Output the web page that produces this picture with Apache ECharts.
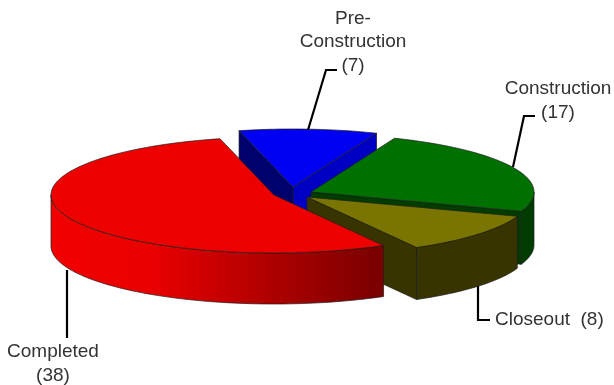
<!DOCTYPE html>
<html><head><meta charset="utf-8">
<style>html,body{margin:0;padding:0;background:#fff}#c{width:614px;height:385px;filter:blur(0.45px)}</style>
<script src="https://cdn.jsdelivr.net/npm/echarts@6/dist/echarts.min.js"></script>
</head><body><div id="c"></div>
<script>
// data
const categories = ['Pre-Construction', 'Construction', 'Closeout', 'Completed'];
const labelNames = ['Pre-\nConstruction', 'Construction', 'Closeout', 'Completed'];
const values = [7, 17, 8, 38];

// layout and style
const RX = 223, RY = 58, START_ANGLE = 256;
const centers = [[293, 187], [311, 192], [307, 197], [274, 195]];
const depths = [52, 53, 52, 51];
const palette = [
  {top:'#0000f2', startCut:'#00006c', endCut:'#0000c4', wall:'#00006c'},
  {top:'#007000', startCut:'#003c00', endCut:'#003c00', wall:'#003c00'},
  {top:'#7a7400', startCut:'#383400', endCut:'#383400', wall:'#383400'},
  {top:'#ee0000', startCut:'#7a0000', endCut:'#7a0000',
   wall:{type:'linear',x:0,y:0,x2:1,y2:0,colorStops:[
     {offset:0,color:'#f20000'},{offset:0.3,color:'#ea0000'},{offset:0.65,color:'#b00000'},{offset:1,color:'#780000'}]}}
];
const labelLayout = [
  {x:353, y:42, align:'center', leader:[[337,70],[326,70],[308,130]]},
  {x:558, y:101, align:'center', leader:[[535,116],[524,116],[513,167]]},
  {x:495, y:320, align:'left', leader:[[478,286],[478,320],[490,320]]},
  {x:53, y:364, align:'center', leader:[[67,270],[67,338]]}
];
const total = values.reduce((a, b) => a + b, 0);
const rad = d => d * Math.PI / 180;
const stroke = {stroke:'#1c1c1c', lineWidth:0.7, lineJoin:'round'};

function arcPts(c, a0, a1, dy) {
  const pts = [], n = Math.max(2, Math.ceil(Math.abs(a1 - a0) / 1.5));
  for (let i = 0; i <= n; i++) {
    const t = rad(a0 + (a1 - a0) * i / n);
    pts.push([c[0] + RX * Math.cos(t), c[1] + RY * Math.sin(t) + dy]);
  }
  return pts;
}
function poly(points, fill) {
  return {type:'polygon', shape:{points}, style:Object.assign({fill}, stroke), silent:true};
}
function renderSlice(params, api) {
  const i = params.dataIndex, v = api.value(0);
  let before = 0;
  for (let k = 0; k < i; k++) before += values[k];
  const a0 = START_ANGLE + before / total * 360, a1 = a0 + v / total * 360;
  const c = centers[i], d = depths[i], col = palette[i], kids = [];

  const cut = (a, fill) => {
    const e = arcPts(c, a, a, 0)[0];
    kids.push(poly([c, e, [e[0], e[1] + d], [c[0], c[1] + d]], fill));
  };
  if (Math.cos(rad(a0)) < 0) cut(a0, col.startCut);
  if (Math.cos(rad(a1)) > 0) cut(a1, col.endCut);

  // outer wall: only the front half of the ellipse faces the viewer
  for (const shift of [0, 360]) {
    const w0 = Math.max(a0, shift), w1 = Math.min(a1, shift + 180);
    if (w1 > w0) {
      const top = arcPts(c, w0, w1, 0), bot = arcPts(c, w1, w0, d);
      kids.push(poly(top.concat(bot), col.wall));
    }
  }
  kids.push(poly([c].concat(arcPts(c, a0, a1, 0)), col.top));

  const lab = labelLayout[i];
  kids.push({type:'polyline', shape:{points:lab.leader}, silent:true,
    style:{stroke:'#000', lineWidth:2.2, fill:null}, z2:5});
  const sep = lab.align === 'left' ? '  ' : '\n';
  kids.push({type:'text', silent:true, z2:6, style:{
    text: labelNames[i] + sep + '(' + v + ')',
    x: lab.x, y: lab.y, align: lab.align, verticalAlign:'middle',
    font:'19px "Liberation Sans", Arial, sans-serif', lineHeight:23.5, fill:'#333'}});
  return {type:'group', children:kids};
}

const chart = echarts.init(document.getElementById('c'), null, {renderer:'canvas'});
chart.setOption({
  animation:false,
  backgroundColor:'#fff',
  series:[{type:'custom', coordinateSystem:'none', renderItem:renderSlice,
    data: values.map((v, i) => ({name:categories[i], value:[v]}))}]
});
</script></body></html>
